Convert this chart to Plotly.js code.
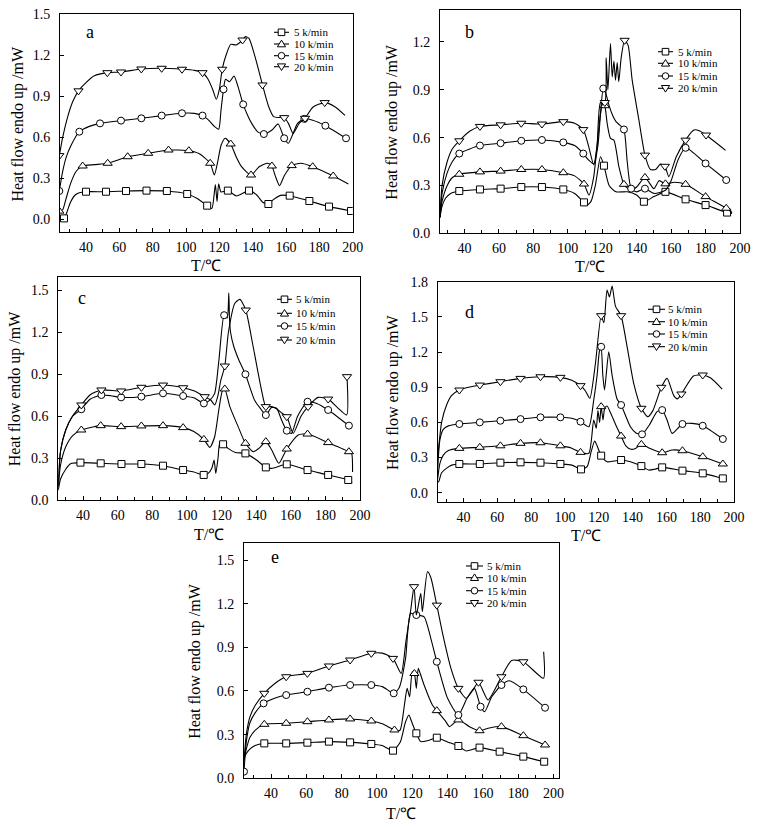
<!DOCTYPE html>
<html><head><meta charset="utf-8">
<script src="https://cdn.plot.ly/plotly-3.0.1.min.js"></script>
<style>html,body{margin:0;padding:0;background:#fff}#chart{width:757px;height:827px}</style>
</head><body><div id="chart"></div>
<script>
// ---------- labels ----------
const seriesNames = ['5 k/min', '10 k/min', '15 k/min', '20 k/min'];
const panelLetters = ['a', 'b', 'c', 'd', 'e'];
const yTitle = 'Heat flow endo up /mW';
const xTitle = 'T/\u2103';
const xTickVals = [40, 60, 80, 100, 120, 140, 160, 180, 200];

// ---------- panel a ----------
const a5T = [25.5, 26.8, 28.5, 30.5, 33.5, 36, 40, 52, 64, 76.3, 88.5, 100.7, 107, 112.7, 115.5, 117.6, 118.6, 119.6, 121, 125.1, 130.2, 137.8, 142.4, 146, 149.4, 152, 156.7, 162.2, 174, 185.8, 199];
const a5H = [0.0, 0.007, 0.05, 0.12, 0.178, 0.195, 0.202, 0.202, 0.207, 0.21, 0.207, 0.185, 0.15, 0.1, 0.08, 0.255, 0.13, 0.26, 0.2, 0.21, 0.171, 0.21, 0.178, 0.125, 0.112, 0.14, 0.175, 0.173, 0.134, 0.093, 0.061];
const a5M = [1, 6, 7, 8, 9, 10, 11, 13, 19, 21, 24, 27, 28, 29, 30];
const a10T = [24, 26, 28, 31, 34, 38, 45, 53, 65, 77.3, 89.5, 101.7, 108, 114.5, 117, 119, 121, 123.5, 126.8, 130, 133.3, 139, 143.9, 149, 151.5, 153.5, 156.1, 159, 163.4, 168.9, 176, 188.3, 197.4];
const a10H = [0.06, 0.07, 0.15, 0.27, 0.35, 0.39, 0.40, 0.41, 0.458, 0.483, 0.507, 0.502, 0.48, 0.41, 0.324, 0.42, 0.54, 0.593, 0.551, 0.46, 0.385, 0.324, 0.385, 0.41, 0.39, 0.32, 0.246, 0.32, 0.393, 0.41, 0.385, 0.317, 0.259];
const a10M = [0, 5, 7, 8, 9, 10, 11, 13, 18, 21, 24, 28, 30, 31];
const a15T = [24, 26, 28, 31, 36, 42, 48.4, 61, 73.2, 85.4, 97.6, 105, 109.9, 114, 117, 119.6, 121, 122.5, 123.7, 126.1, 128.8, 131.2, 134.3, 137, 139.4, 143, 146.7, 151.6, 155.3, 158.9, 161.4, 164, 166.9, 171, 176, 183.6, 196];
const a15H = [0.207, 0.35, 0.45, 0.54, 0.641, 0.68, 0.702, 0.722, 0.739, 0.759, 0.776, 0.775, 0.759, 0.72, 0.68, 0.659, 0.8, 0.951, 1.024, 1.007, 1.049, 0.971, 0.841, 0.76, 0.702, 0.64, 0.624, 0.654, 0.698, 0.593, 0.556, 0.62, 0.702, 0.735, 0.725, 0.685, 0.593];
const a15M = [0, 4, 6, 7, 8, 9, 10, 12, 17, 22, 26, 29, 33, 35, 36];
const a20T = [24, 26, 29, 32, 35.5, 40, 45, 52.8, 61, 73.2, 85.4, 97.6, 105, 109.9, 113, 116, 118.2, 120, 121.7, 124, 126.8, 130.2, 133.9, 135.7, 137.8, 141.4, 145.9, 149.6, 152.6, 155.5, 158.9, 161.5, 164.2, 167.9, 171.4, 176.1, 183.2, 189.3, 195.4];
const a20H = [0.466, 0.6, 0.75, 0.86, 0.94, 1.0, 1.05, 1.073, 1.078, 1.10, 1.105, 1.098, 1.09, 1.073, 1.03, 0.95, 0.878, 0.95, 1.098, 1.2, 1.28, 1.276, 1.312, 1.337, 1.324, 1.19, 0.983, 0.824, 0.751, 0.745, 0.744, 0.70, 0.629, 0.702, 0.739, 0.82, 0.854, 0.824, 0.76];
const a20M = [0, 4, 7, 8, 9, 10, 11, 13, 18, 22, 26, 30, 34, 36];

// ---------- panel b ----------
const b5T = [25.8, 27, 29, 32, 37, 49, 61, 73, 85, 97.4, 104, 109.4, 111.3, 113.5, 116, 119, 121, 124, 128, 134.5, 140, 144.2, 150, 156.7, 168.4, 180, 192.5, 195.4];
const b5H = [0.1, 0.17, 0.22, 0.25, 0.265, 0.275, 0.28, 0.29, 0.29, 0.275, 0.25, 0.194, 0.177, 0.2, 0.3, 0.48, 0.424, 0.3, 0.26, 0.26, 0.24, 0.198, 0.23, 0.26, 0.213, 0.177, 0.13, 0.125];
const b5M = [4, 5, 6, 7, 8, 9, 11, 16, 21, 23, 24, 25, 26];
const b10T = [25.8, 27, 30, 33, 37, 49, 61, 73, 85, 97.4, 104, 109.4, 112.3, 115, 117, 119, 120.3, 121.5, 123, 124.8, 126.8, 129.7, 132.6, 136.4, 140, 144.8, 150, 153, 156.7, 162, 168.4, 180, 192, 195.4];
const b10H = [0.1, 0.2, 0.3, 0.35, 0.37, 0.385, 0.39, 0.40, 0.40, 0.38, 0.36, 0.309, 0.24, 0.35, 0.55, 0.75, 0.82, 0.80, 0.68, 0.595, 0.584, 0.417, 0.307, 0.27, 0.29, 0.35, 0.28, 0.33, 0.31, 0.32, 0.307, 0.23, 0.157, 0.13];
const b10M = [4, 5, 6, 7, 8, 9, 11, 17, 22, 25, 28, 30, 31, 32];
const b15T = [25.8, 27, 30, 33, 37, 49, 61, 73, 85, 97.4, 104, 109, 112, 115.2, 117.5, 119, 120.6, 122, 124, 126, 128, 130, 132.6, 134.5, 136.8, 140, 144.8, 150, 156.7, 160, 164, 168.4, 180, 192];
const b15H = [0.1, 0.25, 0.38, 0.45, 0.50, 0.55, 0.565, 0.58, 0.585, 0.57, 0.55, 0.50, 0.46, 0.434, 0.55, 0.75, 0.908, 0.88, 0.80, 0.74, 0.70, 0.68, 0.651, 0.45, 0.28, 0.26, 0.28, 0.25, 0.27, 0.33, 0.46, 0.536, 0.438, 0.334];
const b15M = [4, 5, 6, 7, 8, 9, 11, 16, 22, 24, 26, 31, 32, 33];
const b20T = [25.8, 27, 30, 33, 37, 43, 49, 61, 73, 85, 97.4, 104, 109, 112, 115, 117, 119, 121.5, 122.3, 123.3, 124.8, 125.8, 126.8, 127.7, 128.7, 129.6, 131, 133, 135, 137.4, 141.3, 144.8, 148, 151, 153.8, 156.4, 158.7, 163, 168.4, 173.2, 176, 180.3, 191.6];
const b20H = [0.1, 0.3, 0.45, 0.53, 0.58, 0.64, 0.67, 0.68, 0.69, 0.685, 0.70, 0.69, 0.65, 0.55, 0.43, 0.55, 0.82, 0.82, 1.1, 0.9, 1.19, 0.98, 1.08, 0.96, 1.07, 0.95, 1.1, 1.21, 1.18, 0.96, 0.71, 0.49, 0.40, 0.40, 0.434, 0.42, 0.355, 0.48, 0.584, 0.647, 0.645, 0.616, 0.52];
const b20M = [4, 6, 7, 8, 9, 10, 12, 17, 27, 31, 35, 38, 41];

// ---------- panel c ----------
const c5T = [25.7, 27, 30, 33, 38.5, 50.2, 62.2, 73.7, 86.2, 97.8, 104, 109.7, 112.3, 114.5, 115.7, 116.7, 118, 119, 120.9, 123.8, 128, 133.8, 140.2, 145.6, 149, 157.7, 169.7, 181.6, 193.2, 195.5];
const c5H = [0.07, 0.15, 0.22, 0.26, 0.267, 0.262, 0.257, 0.257, 0.245, 0.214, 0.2, 0.179, 0.19, 0.23, 0.286, 0.19, 0.3, 0.405, 0.398, 0.369, 0.34, 0.333, 0.286, 0.233, 0.226, 0.255, 0.214, 0.179, 0.143, 0.12];
const c5M = [4, 5, 6, 7, 8, 9, 11, 18, 21, 23, 25, 26, 27, 28];
const c10T = [25.7, 27, 30, 34, 39, 50.2, 62, 73.7, 86.2, 97.8, 104, 109.8, 113.2, 116, 118.5, 120.5, 121.9, 124.8, 129.6, 133.8, 138.3, 141.6, 145.6, 149, 153.1, 157.7, 164.3, 169.7, 181.6, 193.6, 195.2, 195.7];
const c10H = [0.1, 0.25, 0.38, 0.46, 0.5, 0.531, 0.524, 0.529, 0.531, 0.517, 0.49, 0.433, 0.376, 0.45, 0.65, 0.78, 0.793, 0.667, 0.524, 0.405, 0.345, 0.369, 0.417, 0.357, 0.262, 0.364, 0.464, 0.471, 0.41, 0.345, 0.33, 0.2];
const c10M = [4, 5, 6, 7, 8, 9, 11, 16, 19, 22, 25, 27, 28, 29];
const c15T = [25.7, 27, 30, 34, 39, 44, 50.6, 56, 62, 73.7, 86.2, 97.8, 104, 109.8, 113.2, 116, 118.5, 121.5, 123.3, 124.2, 124.6, 125.2, 127, 130, 133.8, 139.2, 143.1, 145.6, 148.9, 151.8, 154.7, 157.7, 160.4, 164, 169.7, 175, 181.6, 193.6];
const c15H = [0.13, 0.35, 0.5, 0.6, 0.648, 0.72, 0.75, 0.745, 0.733, 0.738, 0.762, 0.743, 0.73, 0.69, 0.714, 0.76, 1.0, 1.32, 1.3, 1.48, 1.3, 1.2, 1.1, 1.0, 0.898, 0.71, 0.643, 0.607, 0.66, 0.655, 0.571, 0.495, 0.476, 0.6, 0.702, 0.69, 0.643, 0.531];
const c15M = [4, 6, 8, 9, 10, 11, 13, 17, 24, 27, 31, 34, 36, 37];
const c20T = [25.7, 27, 30, 34, 39, 44, 50.6, 62, 73.7, 86.2, 97.8, 104, 110.3, 113.8, 116.1, 118, 119.5, 121.9, 124, 127.7, 130.6, 134, 138.2, 143, 145.6, 148.9, 152, 155, 157.7, 161.4, 166, 170, 175.8, 181.6, 187, 192.3, 192.5];
const c20H = [0.08, 0.35, 0.5, 0.6, 0.679, 0.75, 0.786, 0.779, 0.805, 0.821, 0.802, 0.78, 0.738, 0.714, 0.679, 0.75, 0.85, 0.957, 1.2, 1.405, 1.433, 1.357, 1.1, 0.79, 0.667, 0.667, 0.65, 0.62, 0.595, 0.476, 0.6, 0.667, 0.733, 0.721, 0.66, 0.607, 0.881];
const c20M = [4, 6, 7, 8, 9, 10, 12, 17, 21, 24, 28, 31, 33, 36];

// ---------- panel d ----------
const d5T = [24.7, 25.3, 27, 30, 33, 37.5, 49.6, 61.8, 73.7, 85.5, 97.3, 104, 109.5, 113.1, 115.5, 117.6, 119, 121.4, 124.9, 129, 133.2, 138.7, 145.2, 149.5, 153, 157.5, 169.5, 181.5, 193.4, 195.5];
const d5H = [0.09, 0.094, 0.17, 0.21, 0.235, 0.245, 0.245, 0.256, 0.259, 0.256, 0.245, 0.235, 0.199, 0.222, 0.35, 0.441, 0.4, 0.316, 0.264, 0.27, 0.279, 0.264, 0.227, 0.193, 0.2, 0.216, 0.188, 0.165, 0.122, 0.115];
const d5M = [5, 6, 7, 8, 9, 10, 12, 17, 20, 22, 25, 26, 27, 28];
const d10T = [24.7, 26, 28, 31, 37.5, 49.6, 61.8, 73.7, 85.5, 97.3, 104, 109.2, 114.1, 117, 118.5, 119.5, 120.5, 121.4, 122.5, 123.5, 124.9, 127, 130, 133.2, 136, 139.1, 142, 145.2, 150, 157.5, 163.4, 169.5, 181.5, 193.4];
const d10H = [0.12, 0.25, 0.32, 0.36, 0.378, 0.387, 0.40, 0.421, 0.426, 0.40, 0.38, 0.344, 0.336, 0.62, 0.55, 0.7, 0.6, 0.734, 0.62, 0.72, 0.739, 0.68, 0.58, 0.483, 0.4, 0.37, 0.38, 0.412, 0.38, 0.341, 0.364, 0.358, 0.307, 0.245];
const d10M = [4, 5, 6, 7, 8, 9, 11, 17, 23, 27, 29, 31, 32, 33];
const d15T = [24.7, 26, 28, 31, 37.5, 49.6, 61.8, 73.7, 85.5, 97.3, 104, 109.2, 114.1, 117, 119, 120.3, 121.4, 122.4, 123.4, 125.9, 127.9, 130.8, 133.2, 138.7, 142, 145.6, 150, 154.5, 157.5, 160.4, 163.4, 169.5, 175.2, 181.5, 193.4];
const d15H = [0.2, 0.45, 0.54, 0.57, 0.586, 0.60, 0.614, 0.628, 0.643, 0.643, 0.635, 0.606, 0.562, 0.79, 1.0, 1.2, 1.245, 1.0, 0.876, 1.203, 1.0, 0.8, 0.748, 0.563, 0.51, 0.498, 0.58, 0.691, 0.705, 0.62, 0.506, 0.586, 0.591, 0.571, 0.458];
const d15M = [4, 5, 6, 7, 8, 9, 11, 16, 22, 25, 28, 31, 33, 34];
const d20T = [24.7, 25.3, 27, 30, 33, 37.5, 43, 49.6, 61.8, 73.7, 85.5, 97.3, 104, 109.2, 112, 114.7, 118, 121.4, 123, 124.9, 126.3, 127.9, 129.9, 133.2, 136.7, 140.7, 145.2, 149, 152, 157, 160.4, 164.3, 166.5, 168.9, 176, 181.5, 186, 193];
const d20H = [0.3, 0.39, 0.6, 0.75, 0.83, 0.876, 0.9, 0.918, 0.947, 0.975, 0.989, 0.984, 0.96, 0.913, 0.87, 0.805, 1.1, 1.51, 1.45, 1.729, 1.67, 1.763, 1.59, 1.51, 1.25, 0.93, 0.72, 0.648, 0.7, 0.899, 0.975, 0.83, 0.80, 0.842, 0.995, 1.004, 0.98, 0.884];
const d20M = [5, 7, 8, 9, 10, 11, 13, 17, 23, 26, 29, 33, 35];

// ---------- panel e ----------
const e5T = [24.7, 26, 28, 31, 36.2, 48.6, 60.6, 72.8, 84.8, 96.8, 103, 109.1, 113.3, 116, 118.1, 119.6, 122.3, 124.8, 129, 133.9, 140, 146.1, 150.5, 158.1, 169.5, 182.9, 194.7, 196];
const e5H = [0.137, 0.17, 0.2, 0.225, 0.24, 0.24, 0.245, 0.252, 0.247, 0.236, 0.225, 0.19, 0.252, 0.38, 0.435, 0.39, 0.309, 0.252, 0.26, 0.279, 0.25, 0.222, 0.188, 0.211, 0.183, 0.149, 0.114, 0.11];
const e5M = [4, 5, 6, 7, 8, 9, 11, 16, 19, 21, 23, 24, 25, 26];
const e10T = [24.7, 26, 28, 31, 36.2, 48.6, 60.6, 72.8, 84.8, 96.8, 103, 109.9, 113, 115.5, 117.1, 118.5, 120, 121.2, 122.3, 123.4, 124.5, 126.7, 131.4, 133.9, 139, 141, 146.1, 152.4, 158.1, 163.7, 170.5, 182.9, 195.2];
const e10H = [0.12, 0.2, 0.28, 0.33, 0.371, 0.378, 0.389, 0.401, 0.408, 0.394, 0.375, 0.332, 0.33, 0.5, 0.618, 0.56, 0.733, 0.72, 0.618, 0.756, 0.72, 0.641, 0.504, 0.465, 0.39, 0.355, 0.401, 0.355, 0.327, 0.346, 0.355, 0.293, 0.229];
const e10M = [4, 5, 6, 7, 8, 9, 11, 17, 23, 26, 28, 30, 31, 32];
const e15T = [24.7, 26, 28, 31, 35.8, 42, 48.6, 60.6, 72.8, 84.8, 96.8, 103, 109.5, 112.5, 116.2, 119, 122.3, 126.7, 130.5, 133.9, 140, 146.1, 151, 155.2, 158.7, 161, 165, 170.5, 175, 182.9, 195.2];
const e15H = [0.046, 0.25, 0.38, 0.45, 0.515, 0.55, 0.572, 0.595, 0.623, 0.641, 0.641, 0.63, 0.584, 0.62, 0.824, 1.133, 1.122, 1.11, 0.962, 0.801, 0.55, 0.435, 0.55, 0.618, 0.492, 0.458, 0.56, 0.641, 0.67, 0.611, 0.485];
const e15M = [0, 4, 6, 7, 8, 9, 10, 12, 16, 19, 21, 24, 27, 29, 30];
const e20T = [24.7, 26, 28, 31, 36.2, 42, 48.6, 60.6, 72.8, 84.8, 96.8, 103, 109.1, 113.7, 116.5, 119, 121, 122.3, 124.8, 125.7, 128.6, 130.5, 133.9, 137.1, 141.9, 146.1, 150.5, 154, 157.5, 162.9, 170.5, 176.3, 182.9, 194.3, 194.4];
const e20H = [0.12, 0.3, 0.42, 0.5, 0.584, 0.65, 0.698, 0.721, 0.772, 0.813, 0.859, 0.86, 0.824, 0.721, 0.95, 1.145, 1.317, 1.122, 1.271, 1.145, 1.42, 1.38, 1.19, 1.0, 0.756, 0.618, 0.55, 0.6, 0.66, 0.538, 0.698, 0.81, 0.801, 0.687, 0.87];
const e20M = [4, 6, 7, 8, 9, 10, 12, 16, 22, 25, 28, 30, 32];

// ---------- layout geometry (pixels) ----------
const W = 757, H = 827;
const FONT = 'Liberation Serif, "Times New Roman", serif';
const symbols = ['square', 'triangle-up', 'circle', 'triangle-down'];

const panels = [
  {box: [60, 352.7, 14.3, 232.3], xr: [24.4, 200], yr: [-0.095, 1.5],
   data: [[a5T, a5H, a5M], [a10T, a10H, a10M], [a15T, a15H, a15M], [a20T, a20H, a20M]],
   leg: {l0: 274, l1: 289, tx: 293, rows: [32.3, 44, 55.7, 66.7]}, letter: [90, 32], yt: 18.3, xt: 265},
  {box: [440, 740, 10, 233.3], xr: [25.8, 200], yr: [0, 1.4],
   data: [[b5T, b5H, b5M], [b10T, b10H, b10M], [b15T, b15H, b15M], [b20T, b20H, b20M]],
   leg: {l0: 658, l1: 673, tx: 677, rows: [51.7, 63.3, 76, 88.3]}, letter: [470, 32], yt: 392, xt: 267},
  {box: [58.3, 360, 276.7, 500], xr: [25.7, 200], yr: [0, 1.595],
   data: [[c5T, c5H, c5M], [c10T, c10H, c10M], [c15T, c15H, c15M], [c20T, c20H, c20M]],
   leg: {l0: 277, l1: 292, tx: 295, rows: [299.3, 313.3, 326, 340]}, letter: [82, 298], yt: 15, xt: 534},
  {box: [437.7, 734, 281.7, 502.3], xr: [24.7, 200], yr: [-0.082, 1.8],
   data: [[d5T, d5H, d5M], [d10T, d10H, d10M], [d15T, d15H, d15M], [d20T, d20H, d20M]],
   leg: {l0: 648, l1: 665, tx: 667, rows: [309.3, 321.7, 334, 346.7]}, letter: [470, 312], yt: 393, xt: 535},
  {box: [244, 559, 543.3, 778.3], xr: [24.7, 203.1], yr: [0, 1.615],
   data: [[e5T, e5H, e5M], [e10T, e10H, e10M], [e15T, e15H, e15M], [e20T, e20H, e20M]],
   leg: {l0: 466, l1: 483, tx: 486, rows: [566, 577.7, 590.7, 603.3]}, letter: [275, 557], yt: 195, xt: 813}
];

const px = x => x / W;
const py = y => 1 - y / H;

const traces = [];
const layout = {
  width: W, height: H, margin: {l: 0, r: 0, t: 0, b: 0},
  paper_bgcolor: '#fff', plot_bgcolor: '#fff', showlegend: false,
  shapes: [], annotations: [], font: {family: FONT, color: '#000'}
};

panels.forEach((p, i) => {
  const n = i === 0 ? '' : String(i + 1);
  const [L, R, T, B] = p.box;
  const axBase = {
    showline: true, linecolor: '#000', linewidth: 1, mirror: true,
    showgrid: false, zeroline: false, ticks: 'inside', ticklen: 4, tickwidth: 1,
    tickcolor: '#000', fixedrange: true,
    tickfont: {family: FONT, size: 14, color: '#000'}
  };
  layout['xaxis' + n] = Object.assign({}, axBase, {
    domain: [px(L), px(R)], range: p.xr, anchor: 'y' + n,
    tickmode: 'array', tickvals: xTickVals, ticktext: xTickVals.map(String),
    minor: {dtick: 10, tick0: 0, ticks: 'inside', ticklen: 3, tickcolor: '#000'},
    ticklabelstandoff: 2
  });
  layout['yaxis' + n] = Object.assign({}, axBase, {
    domain: [py(B), py(T)], range: p.yr, anchor: 'x' + n,
    dtick: 0.3, tick0: 0, tickformat: '.1f', ticklabelstandoff: 6
  });

  p.data.forEach((s, k) => {
    const [tx, hy, mi] = s;
    traces.push({
      x: tx, y: hy, xaxis: 'x' + n, yaxis: 'y' + n, mode: 'lines',
      line: {color: '#000', width: 1.1, shape: 'spline', smoothing: 0.6},
      hoverinfo: 'skip', name: seriesNames[k]
    });
    traces.push({
      x: mi.map(j => tx[j]), y: mi.map(j => hy[j]), xaxis: 'x' + n, yaxis: 'y' + n,
      mode: 'markers', hoverinfo: 'skip', name: seriesNames[k],
      marker: {symbol: symbols[k], size: k % 2 ? 8 : 7, color: '#fff', line: {color: '#000', width: 1}}
    });
  });

  // compact legend (line + symbol + label), inside the top-right of each panel
  const lg = p.leg;
  lg.rows.forEach((ry, k) => {
    layout.shapes.push({type: 'line', xref: 'paper', yref: 'paper',
      x0: px(lg.l0), x1: px(lg.l1), y0: py(ry), y1: py(ry), line: {color: '#000', width: 1.1}});
    const cx = (lg.l0 + lg.l1) / 2, r = 3.3;
    const st = {xref: 'paper', yref: 'paper', fillcolor: '#fff', line: {color: '#000', width: 1}};
    if (k === 0) layout.shapes.push(Object.assign({type: 'rect', x0: px(cx - r), x1: px(cx + r), y0: py(ry + r), y1: py(ry - r)}, st));
    else if (k === 2) layout.shapes.push(Object.assign({type: 'circle', x0: px(cx - r), x1: px(cx + r), y0: py(ry + r), y1: py(ry - r)}, st));
    else {
      const up = k === 1;
      const yA = up ? ry - r - 0.5 : ry + r + 0.5, yB = up ? ry + r - 0.5 : ry - r + 0.5;
      layout.shapes.push(Object.assign({type: 'path',
        path: `M ${px(cx)} ${py(yA)} L ${px(cx + r + 0.8)} ${py(yB)} L ${px(cx - r - 0.8)} ${py(yB)} Z`}, st));
    }
    layout.annotations.push({xref: 'paper', yref: 'paper', x: px(lg.tx), y: py(ry),
      xanchor: 'left', yanchor: 'middle', showarrow: false, text: seriesNames[k], borderpad: 0,
      font: {family: FONT, size: 11, color: '#000'}});
  });

  // panel letter
  layout.annotations.push({xref: 'paper', yref: 'paper', x: px(p.letter[0]), y: py(p.letter[1]),
    xanchor: 'center', yanchor: 'middle', showarrow: false, text: panelLetters[i],
    font: {family: FONT, size: 18, color: '#000'}});
  // axis titles
  layout.annotations.push({xref: 'paper', yref: 'paper', x: px(p.yt), y: py((T + B) / 2),
    xanchor: 'center', yanchor: 'middle', showarrow: false, text: yTitle, textangle: -90,
    font: {family: FONT, size: 16, color: '#000'}});
  layout.annotations.push({xref: 'paper', yref: 'paper', x: px((L + R) / 2), y: py(p.xt),
    xanchor: 'center', yanchor: 'middle', showarrow: false, text: xTitle,
    font: {family: FONT, size: 16, color: '#000'}});
});

Plotly.newPlot('chart', traces, layout, {staticPlot: true, displayModeBar: false});
</script></body></html>
